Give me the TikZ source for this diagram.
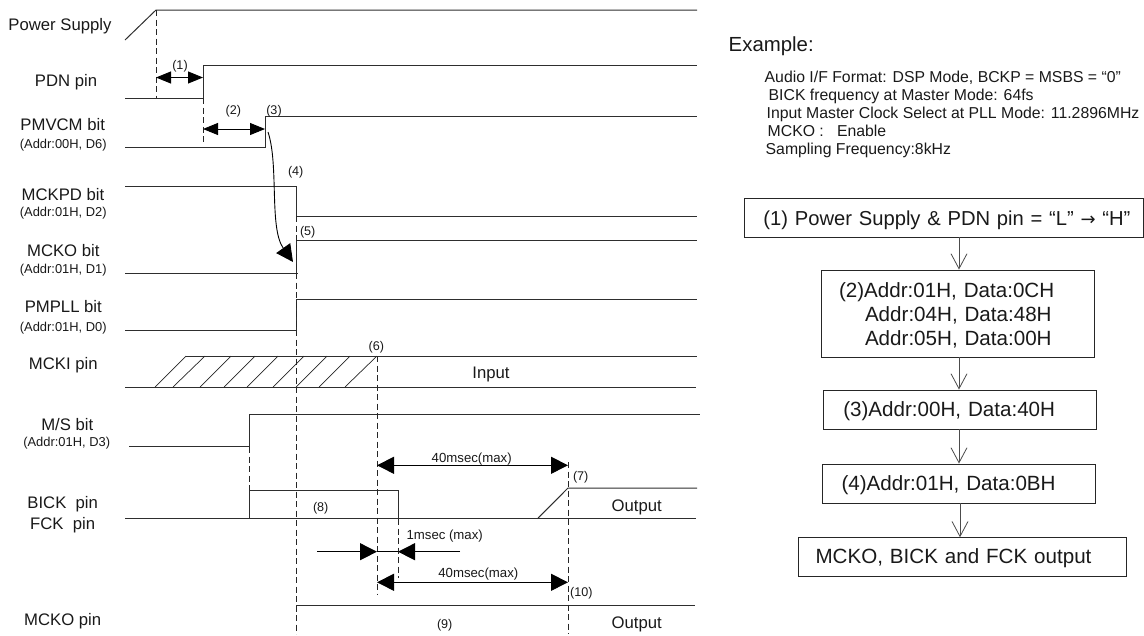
\documentclass[tikz,border=0pt]{standalone}
\usepackage{fontspec}
\setmainfont{Liberation Sans}
\newfontfamily\symfont{DejaVu Sans}
\usetikzlibrary{arrows.meta,calc}
\newcommand{\fs}[1]{\fontsize{#1}{#1}\selectfont}
\tikzset{
  sig/.style={line width=1pt,draw=black!82},
  dash line/.style={line width=0.9pt,draw=black!85,dash pattern=on 6pt off 3.5pt},
  hatchline/.style={line width=0.7pt,draw=black!85},
  big/.style={font=\fs{16.7},inner sep=0pt,text=black!90,anchor=base},
  small/.style={font=\fs{12.9},inner sep=0pt,text=black!90,anchor=base},
  note/.style={font=\fs{12.6},inner sep=0pt,text=black!90,anchor=base},
  dimtext/.style={font=\fs{13.2},inner sep=0pt,text=black!90,anchor=base},
  dim/.style={line width=0.9pt,draw=black,{Triangle[length=17pt,width=17pt]}-{Triangle[length=17pt,width=17pt]}},
  dimsmall/.style={line width=0.9pt,draw=black,{Triangle[length=15pt,width=12pt]}-{Triangle[length=15pt,width=12pt]}},
  singlehead/.style={line width=0.9pt,draw=black,-{Triangle[length=17pt,width=17pt]}},
  infoline/.style={font=\fs{15.8},inner sep=0pt,anchor=base west,text=black!90},
  flowbox/.style={draw=black!85,line width=0.9pt,inner sep=0pt,align=left,font=\fs{20.6},text=black!90},
  flowarrow/.style={line width=0.9pt,draw=black!70,-{Straight Barb[length=15pt,width=16pt,line width=0.8pt]}}
}
\begin{document}
\begin{tikzpicture}[x=1pt,y=-1pt]
\useasboundingbox (0,0) rectangle (1144,635);
% signal labels
\node[big] (lps) at (60,30) {Power Supply};
\node[big] (lpdn) at (66,86) {PDN pin};
\node[big] (lvcm) at (62.7,130) {PMVCM bit};
\node[small] (avcm) at (63.3,148) {(Addr:00H, D6)};
\node[big] (lmckpd) at (63,200) {MCKPD bit};
\node[small] (amckpd) at (63.3,216) {(Addr:01H, D2)};
\node[big] (lmcko) at (63.3,256) {MCKO bit};
\node[small] (amcko) at (63.3,273) {(Addr:01H, D1)};
\node[big] (lpll) at (63.3,312.7) {PMPLL bit};
\node[small] (apll) at (63.3,331) {(Addr:01H, D0)};
\node[big] (lmcki) at (63.3,369.3) {MCKI pin};
\node[big] (lms) at (67.3,430) {M/S bit};
\node[small] (ams) at (66.7,446.7) {(Addr:01H, D3)};
\node[big] (lbick) at (62.7,508.3) {BICK\ \ pin};
\node[big] (lfck) at (62.7,529.3) {FCK\ \ pin};
\node[big] (lmckop) at (62.7,625) {MCKO pin};
% waveforms
\draw[sig] (125,40) -- (156,10) -- (697,10);
\draw[sig] (125,98) -- (203,98) -- (203,65) -- (697,65);
\draw[sig] (125,147) -- (265,147) -- (265,116.5) -- (697,116.5);
\draw[sig] (125,186) -- (296,186) -- (296,216.5) -- (697,216.5);
\draw[sig] (125,273) -- (298,273);
\draw[sig] (296,273) -- (296,240) -- (697,240);
\draw[sig] (125,330) -- (296,330) -- (296,299) -- (697,299);
\draw[sig] (186,356) -- (697,356);
\draw[sig] (125,387) -- (696,387);
\foreach \b/\t in {155/186,173/205,200/231,224/255,247/278,273/304,296/327,319/350,345/377}
  \draw[hatchline] (\b,387) -- (\t,356);
\draw[sig] (129,446.7) -- (249,446.7) -- (249,414.7) -- (700,414.7);
\draw[sig] (125,518.7) -- (696,518.7);
\draw[sig] (249,518.7) -- (249,490) -- (398,490) -- (398,518.7);
\draw[sig] (537.5,518.7) -- (568,488) -- (697,488);
\draw[sig] (296,605.3) -- (695,605.3);
% dashed guides
\draw[dash line] (156,10) -- (156,98);
\draw[dash line] (203,98) -- (203,145);
\draw[dash line] (296,216) -- (296,634);
\draw[dash line] (377,356) -- (377,595);
\draw[dash line] (249,447) -- (249,490);
\draw[dash line] (398,519) -- (398,578);
\draw[dash line] (568,462) -- (568,634);
% dimensions
\draw[dimsmall] (156,77.5) -- (203,77.5);
\draw[dimsmall] (203,129) -- (265,129);
\draw[singlehead] (268,132) .. controls (279,165) and (269,228) .. (293,262);
\draw[dim] (377,465.3) -- (568,465.3);
\draw[dim] (377,582.3) -- (568,582.3);
\draw[singlehead] (317,551.7) -- (377,551.7);
\draw[singlehead] (460,551.7) -- (398,551.7);
\draw[line width=0.9pt] (377,551.7) -- (398,551.7);
% annotations
\node[note] (n1) at (180,69) {(1)};
\node[note] (n2) at (233.3,114) {(2)};
\node[note] (n3) at (274,114) {(3)};
\node[note] (n4) at (295.7,175) {(4)};
\node[note] (n5) at (307.7,235) {(5)};
\node[note] (n6) at (376.3,350) {(6)};
\node[note] (n7) at (580.7,480) {(7)};
\node[note] (n8) at (320.7,511.7) {(8)};
\node[note] (n9) at (444.7,628) {(9)};
\node[note] (n10) at (581.3,596.7) {(10)};
\node[dimtext] (t40a) at (471.7,462) {40msec(max)};
\node[dimtext] (t1) at (444.7,539) {1msec (max)};
\node[dimtext] (t40b) at (478.3,577.7) {40msec(max)};
\node[big] (tin) at (491,378.3) {Input};
\node[big] (tout1) at (636.7,511) {Output};
\node[big] (tout2) at (636.7,628) {Output};
% right side text
\node[font=\fs{20.4},inner sep=0pt,anchor=base west,text=black!90] (ex) at (728.5,51.7) {Example:};
\node[infoline] (i1) at (764.5,82) {Audio I/F Format: DSP Mode, BCKP = MSBS = “0”};
\node[infoline] (i2) at (768.5,100) {BICK frequency at Master Mode: 64fs};
\node[infoline] (i3) at (766.5,118) {Input Master Clock Select at PLL Mode: 11.2896MHz};
\node[infoline] (i4) at (767.5,136) {MCKO :\ \ \ Enable};
\node[infoline] (i5) at (765.5,154) {Sampling Frequency:8kHz};
% flow
\node[flowbox,font=\fs{20.2},text width=399.5pt,text height=27pt,text depth=12pt] (b1) at (943.7,217.5) {\hspace*{19.5pt}(1) Power Supply \& PDN pin = “L” {\symfont\fs{18}→} “H”};
\node[flowbox,text width=273pt,text height=27.3pt,text depth=59.7pt] (b2) at (957.5,313.5) {\hspace*{18pt}(2)Addr:01H, Data:0CH\\[3.4pt]\hspace*{44pt}Addr:04H, Data:48H\\[3.4pt]\hspace*{44pt}Addr:05H, Data:00H};
\node[flowbox,text width=273.5pt,text height=26.7pt,text depth=12.3pt] (b3) at (960,409.5) {\hspace*{20pt}(3)Addr:00H, Data:40H};
\node[flowbox,text width=273pt,text height=26.7pt,text depth=12.3pt] (b4) at (959,483.5) {\hspace*{19pt}(4)Addr:01H, Data:0BH};
\node[flowbox,text width=328.5pt,text height=26pt,text depth=12.5pt] (b5) at (962.3,557) {\hspace*{17.5pt}MCKO, BICK and FCK output};
\coordinate (fa) at (959,0);
\coordinate (fb) at (960,0);
\draw[flowarrow] (b1.south -| fa) -- (b2.north -| fa);
\draw[flowarrow] (b2.south -| fa) -- (b3.north -| fa);
\draw[flowarrow] (b3.south -| fa) -- (b4.north -| fa);
\draw[flowarrow] (b4.south -| fb) -- (b5.north -| fb);
\end{tikzpicture}
\end{document}
